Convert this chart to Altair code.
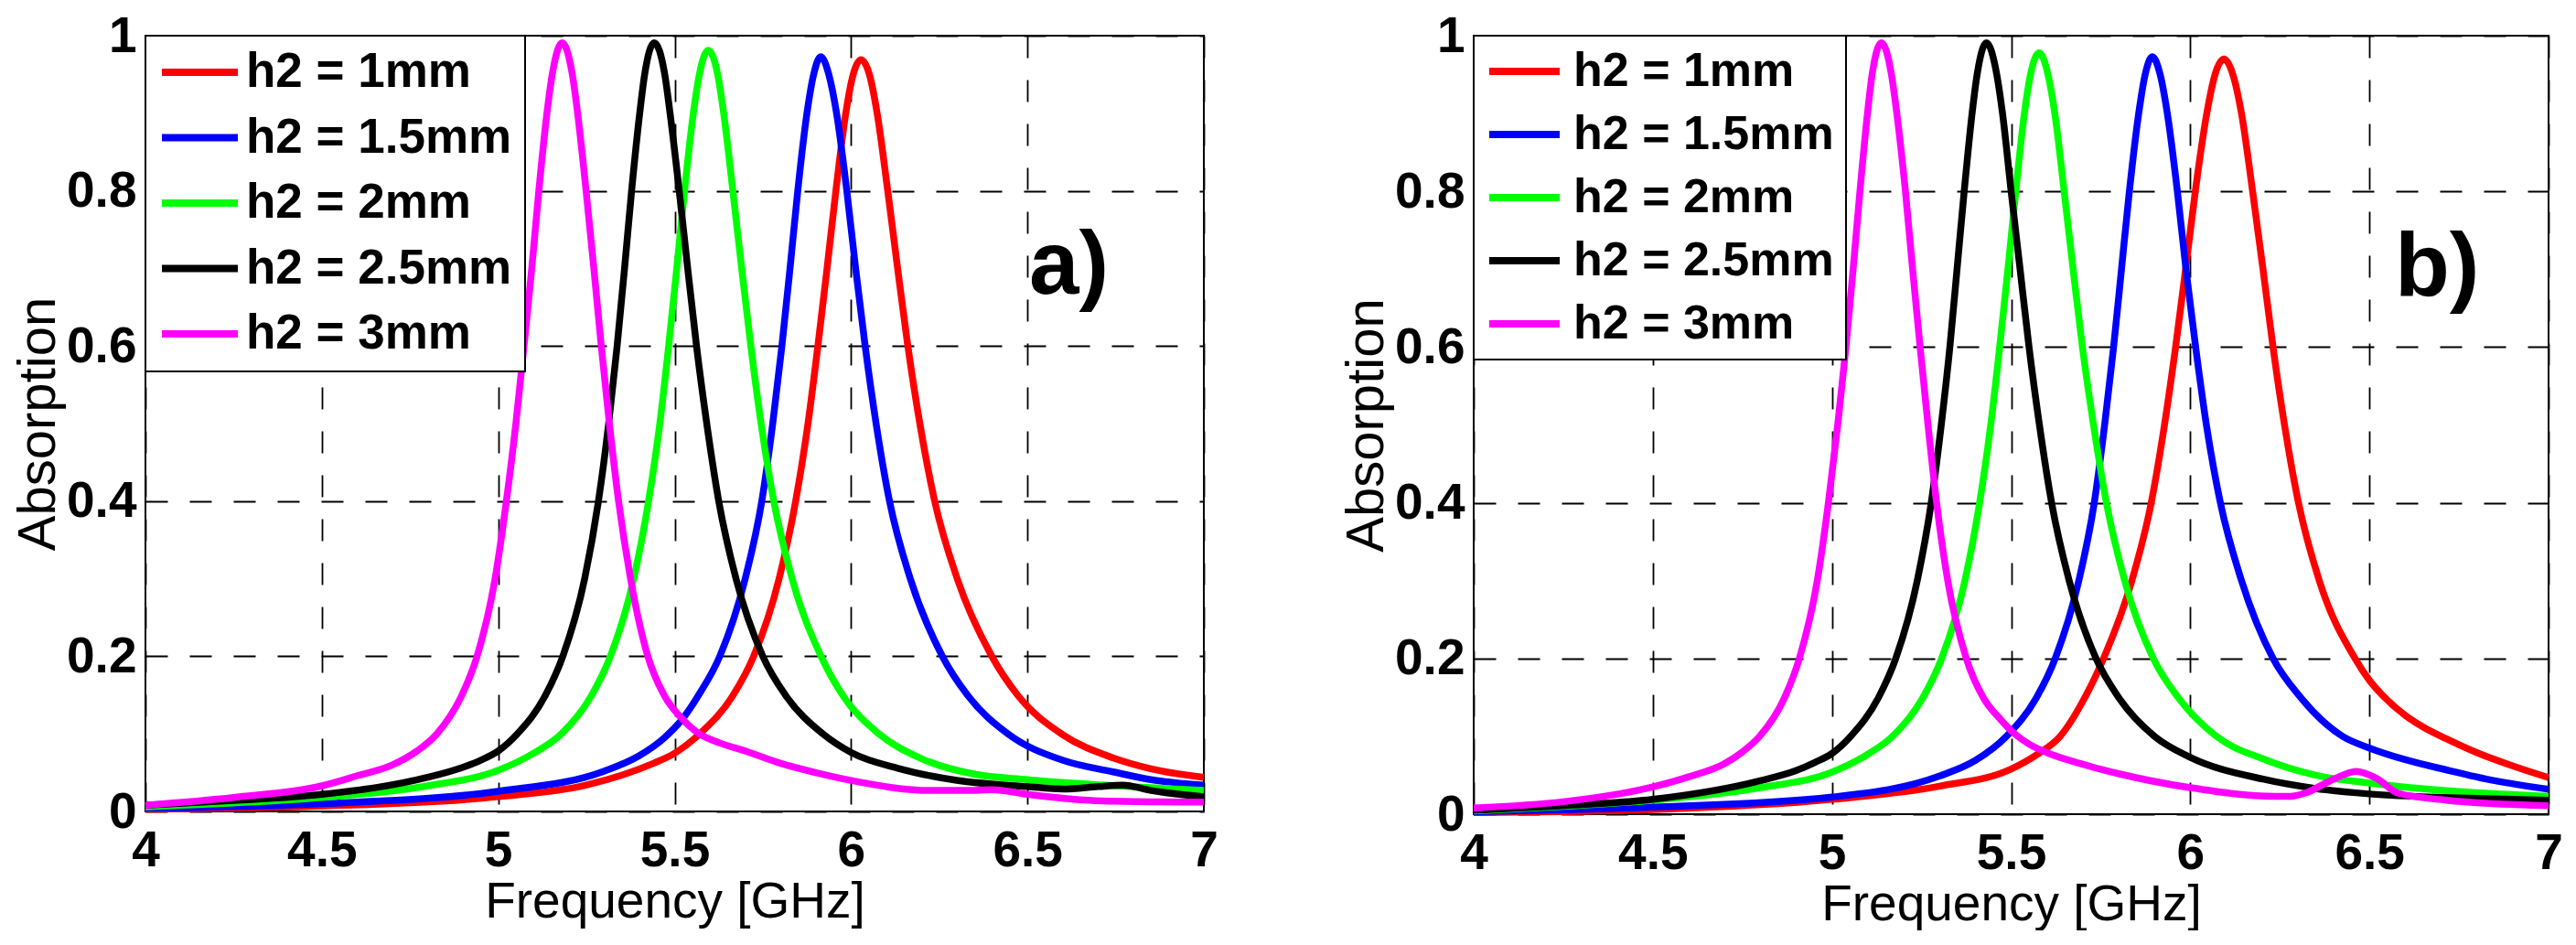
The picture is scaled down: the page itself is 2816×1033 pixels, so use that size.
import altair as alt
import pandas as pd

SERIES = ["h2 = 1mm", "h2 = 1.5mm", "h2 = 2mm", "h2 = 2.5mm", "h2 = 3mm"]
COLORS = ["#ff0000", "#0000ff", "#00ff00", "#000000", "#ff00ff"]
X_TICKS = [4, 4.5, 5, 5.5, 6, 6.5, 7]
Y_TICKS = [0, 0.2, 0.4, 0.6, 0.8, 1]
X_TITLE = "Frequency [GHz]"
Y_TITLE = "Absorption"

# ---------------- panel a) ----------------
A_1MM_F = [4.0, 4.5, 5.0, 5.25, 5.44, 5.5, 5.571, 5.666, 5.724, 5.796, 5.843, 5.878, 5.906,
           5.932, 5.957, 5.985, 6.006, 6.028, 6.052, 6.074, 6.104, 6.132, 6.161, 6.195,
           6.237, 6.301, 6.399, 6.472, 6.6, 6.743, 6.85, 7.0]
A_1MM_Y = [0.003, 0.007, 0.019, 0.034, 0.062, 0.075, 0.1, 0.15, 0.2, 0.3, 0.4, 0.5, 0.6,
           0.7, 0.8, 0.9, 0.95, 0.969, 0.95, 0.9, 0.8, 0.7, 0.6, 0.5,
           0.4, 0.3, 0.2, 0.15, 0.099, 0.069, 0.055, 0.044]

A_15MM_F = [4.0, 4.5, 5.0, 5.3, 5.4, 5.471, 5.52, 5.568, 5.628, 5.700, 5.747, 5.778, 5.804,
            5.827, 5.849, 5.875, 5.894, 5.914, 5.937, 5.959, 5.988, 6.013, 6.040, 6.071,
            6.109, 6.168, 6.259, 6.330, 6.445, 6.6, 6.743, 6.85, 7.0]
A_15MM_Y = [0.004, 0.01, 0.026, 0.052, 0.072, 0.095, 0.118, 0.15, 0.2, 0.3, 0.4, 0.5, 0.6,
            0.7, 0.8, 0.9, 0.95, 0.973, 0.95, 0.9, 0.8, 0.7, 0.6, 0.5,
            0.4, 0.3, 0.2, 0.15, 0.1, 0.066, 0.051, 0.041, 0.034]

A_2MM_F = [4.0, 4.25, 4.5, 4.8, 5.0, 5.1, 5.179, 5.265, 5.318, 5.384, 5.426, 5.458, 5.483,
           5.506, 5.528, 5.553, 5.570, 5.595, 5.622, 5.639, 5.665, 5.690, 5.716, 5.745,
           5.781, 5.833, 5.915, 5.976, 6.079, 6.2, 6.35, 6.5, 6.75, 7.0]
A_2MM_Y = [0.006, 0.011, 0.018, 0.033, 0.053, 0.075, 0.1, 0.15, 0.2, 0.3, 0.4, 0.5, 0.6,
           0.7, 0.8, 0.9, 0.95, 0.981, 0.95, 0.9, 0.8, 0.7, 0.6, 0.5,
           0.4, 0.3, 0.2, 0.15, 0.1, 0.068, 0.048, 0.041, 0.033, 0.027]

A_25MM_F = [4.0, 4.25, 4.5, 4.8, 4.9, 4.95, 5.0, 5.054, 5.134, 5.183, 5.245, 5.284, 5.313,
            5.337, 5.358, 5.378, 5.401, 5.415, 5.442, 5.472, 5.487, 5.513, 5.537, 5.562,
            5.591, 5.625, 5.674, 5.750, 5.814, 5.920, 6.0, 6.138, 6.3, 6.5, 6.6, 6.7,
            6.77, 6.85, 7.0]
A_25MM_Y = [0.008, 0.014, 0.022, 0.044, 0.057, 0.066, 0.078, 0.1, 0.15, 0.2, 0.3, 0.4, 0.5,
            0.6, 0.7, 0.8, 0.9, 0.95, 0.991, 0.95, 0.9, 0.8, 0.7, 0.6,
            0.5, 0.4, 0.3, 0.2, 0.15, 0.1, 0.076, 0.055, 0.04, 0.032, 0.029, 0.032,
            0.034, 0.027, 0.019]

A_3MM_F = [4.0, 4.25, 4.5, 4.6, 4.7, 4.77, 4.826, 4.897, 4.940, 4.991, 5.023, 5.050, 5.073,
           5.095, 5.115, 5.138, 5.153, 5.181, 5.210, 5.225, 5.249, 5.271, 5.292, 5.315,
           5.341, 5.375, 5.424, 5.470, 5.52, 5.57, 5.63, 5.706, 5.8, 5.9, 6.0, 6.225,
           6.33, 6.4, 6.5, 6.69, 7.0]
A_3MM_Y = [0.008, 0.018, 0.033, 0.046, 0.06, 0.078, 0.1, 0.15, 0.2, 0.3, 0.4, 0.5, 0.6,
           0.7, 0.8, 0.9, 0.95, 0.991, 0.95, 0.9, 0.8, 0.7, 0.6, 0.5,
           0.4, 0.3, 0.2, 0.15, 0.12, 0.1, 0.088, 0.077, 0.062, 0.05, 0.04, 0.027,
           0.027, 0.028, 0.022, 0.014, 0.012]

# ---------------- panel b) ----------------
B_1MM_F = [4.0, 4.5, 5.0, 5.3, 5.5, 5.57, 5.637, 5.706, 5.758, 5.837, 5.891, 5.928, 5.959,
           5.987, 6.014, 6.046, 6.069, 6.094, 6.119, 6.143, 6.174, 6.203, 6.231, 6.263,
           6.302, 6.360, 6.46, 6.5, 6.538, 6.6, 6.65, 6.714, 6.8, 6.9, 7.0]
B_1MM_Y = [0.002, 0.006, 0.019, 0.036, 0.058, 0.076, 0.1, 0.15, 0.2, 0.3, 0.4, 0.5, 0.6,
           0.7, 0.8, 0.9, 0.95, 0.97, 0.95, 0.9, 0.8, 0.7, 0.6, 0.5,
           0.4, 0.3, 0.2, 0.172, 0.152, 0.127, 0.112, 0.097, 0.079, 0.062, 0.047]

B_15MM_F = [4.0, 4.5, 5.0, 5.3, 5.4, 5.487, 5.571, 5.623, 5.689, 5.732, 5.761, 5.786, 5.808,
            5.830, 5.856, 5.874, 5.894, 5.916, 5.936, 5.964, 5.988, 6.015, 6.045, 6.084,
            6.143, 6.231, 6.308, 6.425, 6.5, 6.6, 6.714, 6.85, 7.0]
B_15MM_Y = [0.003, 0.009, 0.022, 0.049, 0.069, 0.1, 0.15, 0.2, 0.3, 0.4, 0.5, 0.6, 0.7,
            0.8, 0.9, 0.95, 0.973, 0.95, 0.9, 0.8, 0.7, 0.6, 0.5, 0.4,
            0.3, 0.2, 0.15, 0.1, 0.085, 0.07, 0.057, 0.043, 0.032]

B_2MM_F = [4.0, 4.25, 4.5, 4.8, 5.0, 5.1, 5.169, 5.254, 5.306, 5.371, 5.412, 5.443, 5.468,
           5.491, 5.513, 5.537, 5.554, 5.578, 5.603, 5.622, 5.648, 5.673, 5.699, 5.730,
           5.766, 5.817, 5.897, 5.966, 6.073, 6.203, 6.35, 6.5, 6.75, 7.0]
B_2MM_Y = [0.004, 0.01, 0.018, 0.034, 0.054, 0.077, 0.1, 0.15, 0.2, 0.3, 0.4, 0.5, 0.6,
           0.7, 0.8, 0.9, 0.95, 0.978, 0.95, 0.9, 0.8, 0.7, 0.6, 0.5,
           0.4, 0.3, 0.2, 0.15, 0.1, 0.071, 0.05, 0.04, 0.029, 0.023]

B_25MM_F = [4.0, 4.25, 4.5, 4.8, 4.9, 4.95, 5.0, 5.052, 5.130, 5.178, 5.238, 5.277, 5.305,
            5.329, 5.349, 5.369, 5.391, 5.405, 5.431, 5.460, 5.476, 5.500, 5.525, 5.550,
            5.579, 5.613, 5.662, 5.737, 5.800, 5.900, 6.0, 6.203, 6.35, 6.5, 6.75, 7.0]
B_25MM_Y = [0.005, 0.011, 0.019, 0.043, 0.056, 0.066, 0.078, 0.1, 0.15, 0.2, 0.3, 0.4, 0.5,
            0.6, 0.7, 0.8, 0.9, 0.95, 0.991, 0.95, 0.9, 0.8, 0.7, 0.6,
            0.5, 0.4, 0.3, 0.2, 0.15, 0.1, 0.073, 0.045, 0.033, 0.026, 0.021, 0.018]

B_3MM_F = [4.0, 4.25, 4.5, 4.6, 4.7, 4.75, 4.798, 4.868, 4.909, 4.959, 4.990, 5.016, 5.039,
           5.059, 5.078, 5.099, 5.112, 5.138, 5.166, 5.181, 5.205, 5.225, 5.246, 5.268,
           5.292, 5.323, 5.375, 5.422, 5.47, 5.508, 5.55, 5.6, 5.693, 5.8, 6.0, 6.237,
           6.28, 6.32, 6.4, 6.463, 6.52, 6.58, 6.714, 7.0]
B_3MM_Y = [0.008, 0.016, 0.035, 0.048, 0.065, 0.08, 0.1, 0.15, 0.2, 0.3, 0.4, 0.5, 0.6,
           0.7, 0.8, 0.9, 0.95, 0.991, 0.95, 0.9, 0.8, 0.7, 0.6, 0.5,
           0.4, 0.3, 0.2, 0.15, 0.122, 0.104, 0.09, 0.079, 0.065, 0.052, 0.034, 0.023,
           0.023, 0.027, 0.045, 0.055, 0.046, 0.027, 0.018, 0.011]

PANEL_TAGS = ["a)", "b)"]
TAG_F = [6.505, 6.571]
TAG_Y = [0.667, 0.666]

PANEL_A = [(A_1MM_F, A_1MM_Y), (A_15MM_F, A_15MM_Y), (A_2MM_F, A_2MM_Y),
           (A_25MM_F, A_25MM_Y), (A_3MM_F, A_3MM_Y)]
PANEL_B = [(B_1MM_F, B_1MM_Y), (B_15MM_F, B_15MM_Y), (B_2MM_F, B_2MM_Y),
           (B_25MM_F, B_25MM_Y), (B_3MM_F, B_3MM_Y)]


def panel(curves, tag, tag_f, tag_y, w, h, leg):
    rows = []
    for k, (fs, ys) in enumerate(curves):
        for f, a in zip(fs, ys):
            rows.append({"f": f, "A": a, "series": SERIES[k], "k": k})
    df = pd.DataFrame(rows)

    xaxis = alt.Axis(values=X_TICKS, format="~g", title=X_TITLE, labelFlush=False,
                     labelOverlap=False, ticks=False, domain=False, grid=True,
                     labelBaseline="alphabetic", labelPadding=59,
                     titleBaseline="alphabetic", titleY=115)
    yaxis = alt.Axis(values=Y_TICKS, format="~g", title=Y_TITLE, labelFlush=False,
                     labelOverlap=False, ticks=False, domain=False, grid=True,
                     labelPadding=10, titleBaseline="alphabetic", titleX=-100,
                     titleY=h / 2)
    legend = alt.Legend(title=None, orient="none", legendX=0, legendY=0,
                        symbolType="stroke", symbolStrokeWidth=8,
                        symbolSize=leg["sym"] ** 2,
                        clipHeight=52, rowPadding=leg["row"], padding=leg["pad"],
                        labelOffset=leg["off"],
                        strokeColor="black", fillColor="white",
                        labelFontSize=leg["fs"], labelFontWeight="bold",
                        labelFont="Liberation Sans", labelColor="black",
                        labelLimit=700)
    lines = alt.Chart(df).mark_line(strokeWidth=7.5, interpolate="monotone").encode(
        x=alt.X("f:Q", scale=alt.Scale(domain=[4, 7], nice=False, zero=False), axis=xaxis),
        y=alt.Y("A:Q", scale=alt.Scale(domain=[0, 1], nice=False), axis=yaxis),
        color=alt.Color("series:N", scale=alt.Scale(domain=SERIES, range=COLORS),
                        sort=SERIES, legend=legend),
    )
    tdf = pd.DataFrame({"f": [tag_f], "A": [tag_y], "t": [tag]})
    txt = alt.Chart(tdf).mark_text(align="left", baseline="alphabetic", fontSize=98,
                                   fontWeight="bold", font="Liberation Sans",
                                   color="black").encode(
        x=alt.X("f:Q"), y=alt.Y("A:Q"), text="t:N")
    return alt.layer(lines, txt).properties(width=w, height=h)


pa = panel(PANEL_A, PANEL_TAGS[0], TAG_F[0], TAG_Y[0], 1157, 848,
           {"sym": 83, "row": 18.5, "pad": 14, "off": 5, "fs": 53})
pb = panel(PANEL_B, PANEL_TAGS[1], TAG_F[1], TAG_Y[1], 1175, 851,
           {"sym": 77, "row": 17, "pad": 13, "off": 11, "fs": 52})

chart = alt.hconcat(pa, pb, spacing=131).resolve_scale(color="independent").resolve_legend(
    color="independent").properties(
    padding={"left": 4, "top": 3, "right": 0, "bottom": 0},
    background="white",
).configure_view(stroke="black", strokeWidth=2).configure_axis(
    labelFont="Liberation Sans", labelFontSize=55, labelFontWeight="bold",
    labelColor="black", titleColor="black", titleFontWeight="normal",
    gridColor="black", gridDash=[24, 24], gridWidth=1.8, gridOpacity=1,
).configure_axisX(
    titleFont="Liberation Sans", titleFontSize=55,
).configure_axisY(
    titleFont="Liberation Sans", titleFontSize=58,
).configure_legend(strokeWidth=2)

chart.save("out.html", embed_options={"renderer": "svg", "actions": False})
